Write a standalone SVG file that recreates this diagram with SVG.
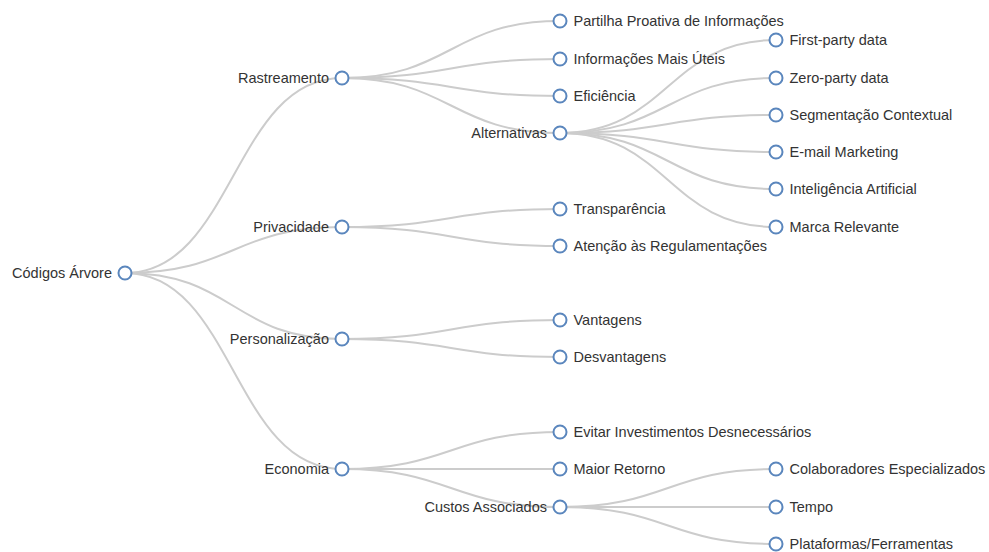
<svg xmlns="http://www.w3.org/2000/svg" width="989" height="552" viewBox="0 0 989 552">
<style>
.link{fill:none;stroke:#cccccc;stroke-width:2}
.node circle{fill:#ffffff;stroke:#5a86bd;stroke-width:2}
.node text{font-family:"Liberation Sans",Arial,sans-serif;font-size:14.5px;fill:#333333}
.l{text-anchor:end}
</style>
<rect width="989" height="552" fill="#ffffff"/>
<g id="links">
<path class="link" d="M125,273C233.5,273 233.5,78 342,78"/>
<path class="link" d="M125,273C233.5,273 233.5,227 342,227"/>
<path class="link" d="M125,273C233.5,273 233.5,339 342,339"/>
<path class="link" d="M125,273C233.5,273 233.5,469 342,469"/>
<path class="link" d="M342,78C451,78 451,21 560,21"/>
<path class="link" d="M342,78C451,78 451,59 560,59"/>
<path class="link" d="M342,78C451,78 451,96 560,96"/>
<path class="link" d="M342,78C451,78 451,133 560,133"/>
<path class="link" d="M342,227C451,227 451,209 560,209"/>
<path class="link" d="M342,227C451,227 451,246 560,246"/>
<path class="link" d="M342,339C451,339 451,320 560,320"/>
<path class="link" d="M342,339C451,339 451,357 560,357"/>
<path class="link" d="M342,469C451,469 451,432 560,432"/>
<path class="link" d="M342,469C451,469 451,469 560,469"/>
<path class="link" d="M342,469C451,469 451,507 560,507"/>
<path class="link" d="M560,133C668,133 668,40 776,40"/>
<path class="link" d="M560,133C668,133 668,78 776,78"/>
<path class="link" d="M560,133C668,133 668,115 776,115"/>
<path class="link" d="M560,133C668,133 668,152 776,152"/>
<path class="link" d="M560,133C668,133 668,189 776,189"/>
<path class="link" d="M560,133C668,133 668,227 776,227"/>
<path class="link" d="M560,507C668,507 668,469 776,469"/>
<path class="link" d="M560,507C668,507 668,507 776,507"/>
<path class="link" d="M560,507C668,507 668,544 776,544"/>
</g>
<g id="n-root" class="node" transform="translate(125,273)"><circle r="6.5"/><text class="l" x="-13" y="5">Códigos Árvore</text></g>
<g id="n-rastreamento" class="node" transform="translate(342,78)"><circle r="6.5"/><text class="l" x="-13" y="5">Rastreamento</text></g>
<g id="n-privacidade" class="node" transform="translate(342,227)"><circle r="6.5"/><text class="l" x="-13" y="5">Privacidade</text></g>
<g id="n-personalizacao" class="node" transform="translate(342,339)"><circle r="6.5"/><text class="l" x="-13" y="5">Personalização</text></g>
<g id="n-economia" class="node" transform="translate(342,469)"><circle r="6.5"/><text class="l" x="-13" y="5">Economia</text></g>
<g id="n-partilha" class="node" transform="translate(560,21)"><circle r="6.5"/><text x="13.5" y="5">Partilha Proativa de Informações</text></g>
<g id="n-informacoes" class="node" transform="translate(560,59)"><circle r="6.5"/><text x="13.5" y="5">Informações Mais Úteis</text></g>
<g id="n-eficiencia" class="node" transform="translate(560,96)"><circle r="6.5"/><text x="13.5" y="5">Eficiência</text></g>
<g id="n-alternativas" class="node" transform="translate(560,133)"><circle r="6.5"/><text class="l" x="-13" y="5">Alternativas</text></g>
<g id="n-transparencia" class="node" transform="translate(560,209)"><circle r="6.5"/><text x="13.5" y="5">Transparência</text></g>
<g id="n-atencao" class="node" transform="translate(560,246)"><circle r="6.5"/><text x="13.5" y="5">Atenção às Regulamentações</text></g>
<g id="n-vantagens" class="node" transform="translate(560,320)"><circle r="6.5"/><text x="13.5" y="5">Vantagens</text></g>
<g id="n-desvantagens" class="node" transform="translate(560,357)"><circle r="6.5"/><text x="13.5" y="5">Desvantagens</text></g>
<g id="n-evitar" class="node" transform="translate(560,432)"><circle r="6.5"/><text x="13.5" y="5">Evitar Investimentos Desnecessários</text></g>
<g id="n-maior" class="node" transform="translate(560,469)"><circle r="6.5"/><text x="13.5" y="5">Maior Retorno</text></g>
<g id="n-custos" class="node" transform="translate(560,507)"><circle r="6.5"/><text class="l" x="-13" y="5">Custos Associados</text></g>
<g id="n-first" class="node" transform="translate(776,40)"><circle r="6.5"/><text x="13.5" y="5">First-party data</text></g>
<g id="n-zero" class="node" transform="translate(776,78)"><circle r="6.5"/><text x="13.5" y="5">Zero-party data</text></g>
<g id="n-segmentacao" class="node" transform="translate(776,115)"><circle r="6.5"/><text x="13.5" y="5">Segmentação Contextual</text></g>
<g id="n-email" class="node" transform="translate(776,152)"><circle r="6.5"/><text x="13.5" y="5">E-mail Marketing</text></g>
<g id="n-ia" class="node" transform="translate(776,189)"><circle r="6.5"/><text x="13.5" y="5">Inteligência Artificial</text></g>
<g id="n-marca" class="node" transform="translate(776,227)"><circle r="6.5"/><text x="13.5" y="5">Marca Relevante</text></g>
<g id="n-colaboradores" class="node" transform="translate(776,469)"><circle r="6.5"/><text x="13.5" y="5">Colaboradores Especializados</text></g>
<g id="n-tempo" class="node" transform="translate(776,507)"><circle r="6.5"/><text x="13.5" y="5">Tempo</text></g>
<g id="n-plataformas" class="node" transform="translate(776,544)"><circle r="6.5"/><text x="13.5" y="5">Plataformas/Ferramentas</text></g>
</svg>
